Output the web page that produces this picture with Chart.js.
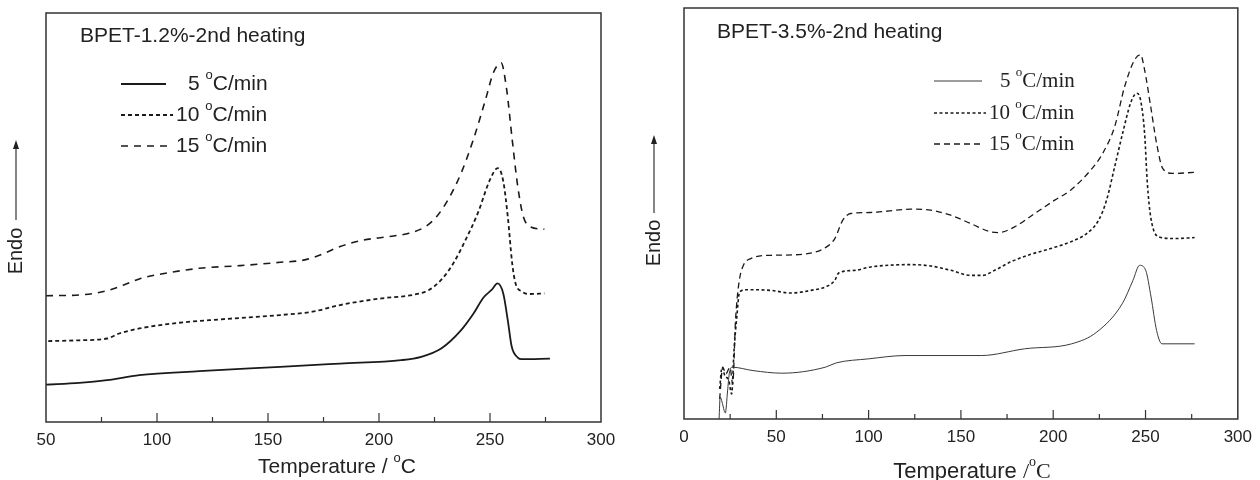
<!DOCTYPE html>
<html>
<head>
<meta charset="utf-8">
<script src="https://cdn.jsdelivr.net/npm/chart.js@4.4.1/dist/chart.umd.min.js"></script>
<style>
  body { margin: 0; background: #fff; }
  canvas { position: absolute; top: 0; }
</style>
</head>
<body>
<canvas id="left" width="630" height="480" style="left:0"></canvas>
<canvas id="right" width="630" height="480" style="left:630px"></canvas>
<script>
// series labels (shared by both panels)
var rateLabels = ['5 °C/min', '10 °C/min', '15 °C/min'];
var xTicksLeft = [50, 100, 150, 200, 250, 300];
var xTicksRight = [0, 50, 100, 150, 200, 250, 300];

// BPET-1.2% (temperature, heat flow in arbitrary units)
var t12_5 = [50, 65, 77.5, 92, 119, 155.5, 182.5, 210, 219, 228, 237, 242.5, 247, 250.7, 253.4, 256, 258, 259.8, 262.5, 264.3, 277];
var v12_5 = [37.3, 39, 41.7, 46.7, 50.7, 55, 58.3, 61.7, 65, 73.3, 91.7, 108, 124, 131.7, 138.3, 128, 101.7, 75, 64.3, 62.7, 63.3];
var t12_10 = [51, 65, 77.5, 83, 92, 110, 128, 155.5, 170, 182.5, 201, 215, 222.5, 228, 233.5, 239, 244.5, 250, 253.5, 256, 258, 260, 261.5, 264.5, 268, 274.5];
var v12_10 = [80.7, 81.5, 83.3, 88.3, 93.3, 99, 102.3, 106.7, 110, 116.7, 123.3, 126.7, 131.7, 141.7, 158.3, 181.7, 208.3, 241.7, 253.3, 240, 205, 158.3, 138.3, 130, 127.7, 128.3];
var t12_15 = [50, 65, 77.5, 85, 92, 101, 119, 137.5, 155.5, 166.5, 173.5, 182.5, 192, 204.5, 213.5, 221, 226, 231.5, 237, 242.5, 248, 251.5, 255, 257.5, 260, 262.5, 265, 268, 274.5];
var v12_15 = [126, 126.7, 131, 136.7, 142.7, 147.3, 153.3, 156, 159.3, 161.7, 166.7, 175, 181, 185, 188.3, 195, 205, 223.3, 248.3, 281.7, 321.7, 348.3, 358.3, 331.7, 281.7, 235, 205, 195, 192.3];

// BPET-3.5%
var t35_5 = [19, 19.6, 20.6, 22.4, 23.6, 24.5, 26, 37.4, 53, 76.6, 82.5, 100, 119.7, 161, 184.4, 210, 223.6, 237.4, 243.2, 246.8, 250.1, 253, 256, 258.9, 276.6];
var v35_5 = [0, 22, 17, 6, 28, 45, 51.7, 48.3, 45.7, 51.7, 56, 60, 63.3, 63.3, 70, 75, 86.7, 115, 138.3, 153.3, 148.3, 121.7, 88.3, 75, 75];
var t35_10 = [19.3, 20.6, 22.1, 24.3, 25.8, 27.1, 28.6, 30.1, 34, 47, 57.8, 68.7, 77.3, 81.7, 83.8, 92.5, 101.1, 122.8, 133.6, 144.5, 155.3, 161.8, 168.3, 177, 187.8, 198.6, 209.4, 218.1, 224.6, 228.9, 233.3, 237.6, 241.9, 245.2, 247.3, 249.5, 251, 252.8, 257.1, 265.8, 276.6];
var v35_10 = [30, 51.7, 43.3, 38.3, 25, 68.3, 101.7, 126.7, 129, 128.3, 125.7, 128.3, 132.3, 138.3, 145.7, 148.3, 151.7, 154, 152.7, 148.3, 143.3, 143.3, 148.3, 156.7, 164.3, 170, 176.7, 185, 198.3, 218.3, 251.7, 285, 315, 325, 318.3, 285, 235, 201.7, 181.7, 180, 181];
var t35_15 = [19.3, 21, 22.7, 24.9, 26.4, 27.9, 29.7, 31.8, 36.2, 47, 62.2, 77.3, 81.7, 86, 90.3, 101.1, 122.8, 133.6, 144.5, 155.3, 166.1, 170.5, 179.1, 190, 200.8, 209.4, 220.3, 226.8, 233.3, 238.7, 244.1, 247.3, 249.5, 252.8, 256, 259.3, 264.7, 276.6];
var v35_15 = [20, 51.7, 45, 51.7, 35, 98.3, 135, 151.7, 160, 163.3, 164, 171.7, 180, 198.3, 205, 206, 209.3, 208.3, 203.3, 195, 186.7, 186, 191.7, 205, 218.3, 228.3, 248.3, 265, 291.7, 331.7, 358.3, 363.3, 348.3, 311.7, 275, 250, 245, 246];

function pts(t, v) {
  return t.map(function (x, i) { return { x: x, y: v[i] }; });
}

var SANS = '"Liberation Sans", Arial, sans-serif';
var SERIF = '"Liberation Serif", "Times New Roman", serif';

// draws text, turning "°" into a raised small "o"
function richText(ctx, str, x, y, size, family, align) {
  var parts = str.split('°');
  var segs = [];
  parts.forEach(function (p, i) {
    if (i > 0) segs.push({ t: 'o', f: Math.round(size * 0.62) + 'px ' + family, dy: -size * 0.42 });
    if (p) segs.push({ t: p, f: size + 'px ' + family, dy: 0 });
  });
  var w = 0;
  segs.forEach(function (s) { ctx.font = s.f; s.w = ctx.measureText(s.t).width; w += s.w; });
  var cx = align === 'center' ? x - w / 2 : x;
  ctx.textAlign = 'left';
  ctx.textBaseline = 'middle';
  segs.forEach(function (s) { ctx.font = s.f; ctx.fillText(s.t, cx, y + s.dy); cx += s.w; });
}

var panelPlugin = {
  id: 'panel',
  afterDraw: function (chart, args, o) {
    var ctx = chart.ctx, a = chart.chartArea, xs = chart.scales.x;
    ctx.save();
    ctx.strokeStyle = '#333';
    ctx.fillStyle = '#222';
    ctx.lineWidth = 1.5;
    ctx.strokeRect(a.left, a.top, a.right - a.left, a.bottom - a.top);
    // inside ticks every 25
    ctx.lineWidth = 1.2;
    for (var v = xs.min + 25; v < xs.max; v += 25) {
      var px = xs.getPixelForValue(v);
      var len = (v % 50 === 0) ? 9 : 5;
      ctx.beginPath(); ctx.moveTo(px, a.bottom); ctx.lineTo(px, a.bottom - len); ctx.stroke();
    }
    // panel title
    ctx.font = o.titleSize + 'px ' + SANS;
    ctx.textAlign = 'left'; ctx.textBaseline = 'middle';
    ctx.fillText(o.title, o.titleX, o.titleY);
    // legend
    chart.data.datasets.forEach(function (ds, i) {
      var y = o.legY[i];
      ctx.save();
      ctx.strokeStyle = ds.borderColor;
      ctx.lineWidth = ds.borderWidth;
      ctx.setLineDash(ds.borderDash || []);
      ctx.beginPath(); ctx.moveTo(o.legX0, y); ctx.lineTo(o.legX1[i], y); ctx.stroke();
      ctx.restore();
      richText(ctx, ds.label, o.legTextX[i], y, o.legSize, o.legFont, 'left');
    });
    // Endo with arrow
    ctx.save();
    ctx.translate(o.endoX, o.endoY);
    ctx.rotate(-Math.PI / 2);
    ctx.font = '20px ' + SANS;
    ctx.textAlign = 'center'; ctx.textBaseline = 'middle';
    ctx.fillText('Endo', 0, 0);
    ctx.restore();
    ctx.lineWidth = 1.2;
    ctx.beginPath(); ctx.moveTo(o.endoX, o.arrowFrom); ctx.lineTo(o.endoX, o.arrowTo + 6); ctx.stroke();
    ctx.beginPath();
    ctx.moveTo(o.endoX, o.arrowTo);
    ctx.lineTo(o.endoX - 3, o.arrowTo + 9);
    ctx.lineTo(o.endoX + 3, o.arrowTo + 9);
    ctx.closePath(); ctx.fill();
    // x axis title
    if (o.xTitleSerif) {
      ctx.font = o.xTitleSize + 'px ' + SANS;
      var w1 = ctx.measureText('Temperature ').width;
      ctx.font = o.xTitleSize + 'px ' + SERIF;
      var w2 = ctx.measureText('/oC').width;
      var sx = o.xTitleX - (w1 + w2) / 2;
      ctx.font = o.xTitleSize + 'px ' + SANS;
      ctx.textAlign = 'left'; ctx.textBaseline = 'middle';
      ctx.fillText('Temperature ', sx, o.xTitleY);
      richText(ctx, '/°C', sx + w1, o.xTitleY, o.xTitleSize, SERIF, 'left');
    } else {
      richText(ctx, 'Temperature / °C', o.xTitleX, o.xTitleY, o.xTitleSize, SANS, 'center');
    }
    ctx.restore();
  }
};

function makeChart(id, sets, styles, xmin, xmax, ymax, tickList, pad, axisH, panelOpts) {
  return new Chart(document.getElementById(id).getContext('2d'), {
    type: 'line',
    data: {
      datasets: sets.map(function (s, i) {
        return Object.assign({
          label: rateLabels[i],
          data: s,
          borderColor: '#1a1a1a',
          pointRadius: 0,
          fill: false,
          cubicInterpolationMode: 'monotone'
        }, styles[i]);
      })
    },
    options: {
      responsive: false,
      animation: false,
      devicePixelRatio: 1,
      layout: { padding: pad },
      plugins: { legend: { display: false }, tooltip: { enabled: false }, panel: panelOpts },
      scales: {
        x: {
          type: 'linear', min: xmin, max: xmax,
          afterBuildTicks: function (s) { s.ticks = tickList.map(function (v) { return { value: v }; }); },
          afterFit: function (s) { s.height = axisH; },
          grid: { display: false, drawTicks: false },
          border: { display: false },
          ticks: { color: '#222', padding: 8, maxRotation: 0, font: { size: 17, family: SANS } }
        },
        y: { display: false, min: 0, max: ymax }
      }
    },
    plugins: [panelPlugin]
  });
}

makeChart('left',
  [pts(t12_5, v12_5), pts(t12_10, v12_10), pts(t12_15, v12_15)],
  [{ borderWidth: 1.8 }, { borderWidth: 1.8, borderDash: [4, 3] }, { borderWidth: 1.6, borderDash: [7, 6] }],
  50, 300, 408, xTicksLeft,
  { left: 46, right: 29, top: 13, bottom: 0 }, 58,
  {
    title: 'BPET-1.2%-2nd heating', titleX: 80, titleY: 36, titleSize: 21,
    legX0: 121, legX1: [166, 173, 173], legTextX: [188, 176, 176], legY: [84, 115, 146],
    legSize: 21, legFont: SANS,
    endoX: 16, endoY: 251, arrowFrom: 220, arrowTo: 140,
    xTitleX: 337, xTitleY: 467, xTitleSize: 21, xTitleSerif: false
  });

makeChart('right',
  [pts(t35_5, v35_5), pts(t35_10, v35_10), pts(t35_15, v35_15)],
  [{ borderWidth: 1, borderColor: '#3a3a3a' }, { borderWidth: 1.6, borderDash: [3, 2.5] }, { borderWidth: 1.3, borderDash: [6, 4] }],
  0, 300, 410, xTicksRight,
  { left: 54, right: 20, top: 8, bottom: 0 }, 61,
  {
    title: 'BPET-3.5%-2nd heating', titleX: 87, titleY: 32, titleSize: 21,
    legX0: 304, legX1: [352, 356, 354], legTextX: [370, 359, 359], legY: [81, 113, 144],
    legSize: 21, legFont: SERIF,
    endoX: 24, endoY: 243, arrowFrom: 213, arrowTo: 135,
    xTitleX: 344, xTitleY: 472, xTitleSize: 22, xTitleSerif: true
  });
</script>
</body>
</html>
